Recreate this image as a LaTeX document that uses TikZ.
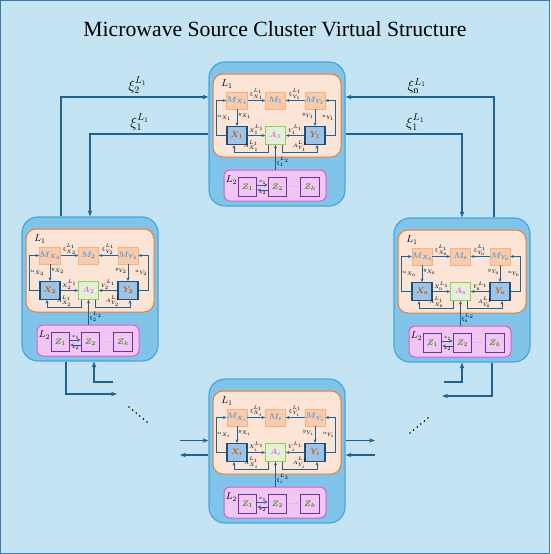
\documentclass[tikz,border=0pt]{standalone}
\usepackage{amsmath,amssymb}
\usepackage{fontspec}
\setmainfont{Liberation Serif}
\usetikzlibrary{arrows.meta,positioning}

\definecolor{bgblue}{HTML}{C4E4F4}
\definecolor{frameblue}{HTML}{3A78A8}
\definecolor{modfill}{HTML}{80C4E9}
\definecolor{moddraw}{HTML}{4AA5DD}
\definecolor{lonefill}{HTML}{FCE4D6}
\definecolor{lonedraw}{HTML}{ED7D31}
\definecolor{mfill}{HTML}{F8CBAD}
\definecolor{mdraw}{HTML}{F4B183}
\definecolor{mtext}{HTML}{5B9BD5}
\definecolor{xfill}{HTML}{9DC3E6}
\definecolor{xdraw}{HTML}{1F4E79}
\definecolor{xtext}{HTML}{C55A11}
\definecolor{afill}{HTML}{E2F0D9}
\definecolor{adraw}{HTML}{92D050}
\definecolor{atext}{HTML}{E46FE0}
\definecolor{ltwofill}{HTML}{F2C6F2}
\definecolor{ltwodraw}{HTML}{D55FD2}
\definecolor{zdraw}{HTML}{7030A0}
\definecolor{ztext}{HTML}{548235}
\definecolor{arrcol}{HTML}{1F6391}

% one source module: #1 name, #2 top-left corner, #3 index
\newcommand{\srcmodule}[3]{%
  \begin{scope}[shift={#2}]
    \node[modbox] (#1) at (68,72) {};
    \node[lonebox] (#1l1) at (68,53.5) {};
    \node[ltwobox] (#1l2) at (66,123.5) {};
    \node[lname] at (18,22) {$L_1$};
    \node[lname] at (22.5,118) {$L_2$};
    \node[mbox] (#1mx) at (28,38.5) {$\boldsymbol{M_{X_{#3}}}$};
    \node[mbox] (#1m) at (66.5,38.5) {$\boldsymbol{M_{#3}}$};
    \node[mbox] (#1my) at (106,38.5) {$\boldsymbol{M_{Y_{#3}}}$};
    \node[xbox] (#1x) at (28,73.5) {$\boldsymbol{X_{#3}}$};
    \node[abox] (#1a) at (66.5,73.5) {$\boldsymbol{A_{#3}}$};
    \node[xbox] (#1y) at (106,73.5) {$\boldsymbol{Y_{#3}}$};
    \node[zbox] (#1z1) at (38.5,125) {$\boldsymbol{Z_1}$};
    \node[zbox] (#1z2) at (68.5,125) {$\boldsymbol{Z_2}$};
    \node[zbox] (#1zk) at (101,125) {$\boldsymbol{Z_k}$};
    \node[lbl] (#1dots) at (84.8,125.5) {$\cdots$};
    \draw[arr] (#1mx) -- node[lbl, above]{$\xi_{X_{#3}}^{L_1}$} (#1m);
    \draw[arr] (#1my) -- node[lbl, above]{$\xi_{Y_{#3}}^{L_1}$} (#1m);
    \draw[arr] (#1mx) -- node[lbl, right, pos=0.4]{$y_{X_{#3}}$} (#1x);
    \draw[arr] (#1my) -- node[lbl, left, pos=0.4]{$y_{Y_{#3}}$} (#1y);
    \draw[arr] (#1x.west) -- ++(-10,0) |- node[lbl, pos=0.25, right]{$u_{X_{#3}}$} (#1mx.west);
    \draw[arr] (#1y.east) -- ++(10,0) |- node[lbl, pos=0.25, left]{$u_{Y_{#3}}$} (#1my.east);
    \draw[arr] (#1x) -- node[lbl, above]{$X_{#3}^{L_1}$} (#1a);
    \draw[arr] (#1y) -- node[lbl, above]{$Y_{#3}^{L_1}$} (#1a);
    \draw[arr] ([xshift=-7pt]#1a.south) -- ++(0,7.5) -| node[lbl, pos=0.25, above]{$A_{X_{#3}}^{L_1}$} ([xshift=-3pt]#1x.south);
    \draw[arr] ([xshift=7pt]#1a.south) -- ++(0,7.5) -| node[lbl, pos=0.25, above]{$A_{Y_{#3}}^{L_1}$} ([xshift=2pt]#1y.south);
    \draw[arr] (#1l2.north -| #1a) -- node[lbl, right, pos=0.3]{$\xi_{#3}^{L_2}$} (#1a);
    \draw[arr] ([yshift=2pt]#1z1.east) -- node[lbl, above]{$z_1$} ([yshift=2pt]#1z2.west);
    \draw[arr] ([yshift=-3pt]#1z2.west) -- node[lbl, below]{$z_2$} ([yshift=-3pt]#1z1.east);
  \end{scope}}

\begin{document}
\begin{tikzpicture}[
    x=1pt, y=-1pt,
    modbox/.style={draw=moddraw, fill=modfill, line width=1.2pt, rounded corners=16pt,
                   minimum width=136pt, minimum height=144pt},
    lonebox/.style={draw=lonedraw, fill=lonefill, line width=1pt, rounded corners=10pt,
                    minimum width=128pt, minimum height=83pt},
    ltwobox/.style={draw=ltwodraw, fill=ltwofill, line width=1pt, rounded corners=6pt,
                    minimum width=102pt, minimum height=31pt},
    mbox/.style={draw=mdraw, fill=mfill, line width=0.6pt, minimum width=20pt,
                 minimum height=17pt, inner sep=0pt, text=mtext, font=\fontsize{8}{9}\selectfont},
    xbox/.style={draw=xdraw, fill=xfill, line width=1.1pt, minimum width=20pt,
                 minimum height=18pt, inner sep=0pt, text=xtext, font=\fontsize{8.5}{9}\selectfont},
    abox/.style={draw=adraw, fill=afill, line width=0.8pt, minimum width=20pt,
                 minimum height=18pt, inner sep=0pt, text=atext, font=\fontsize{8.5}{9}\selectfont},
    zbox/.style={draw=zdraw, fill=ltwofill, line width=1.1pt, minimum size=18.5pt,
                 inner sep=0pt, text=ztext, font=\fontsize{8.5}{9}\selectfont},
    arr/.style={-{Stealth[length=3.5pt,width=3pt]}, draw=arrcol, line width=0.8pt},
    bigarr/.style={-{Stealth[length=6pt,width=4.5pt]}, draw=arrcol, line width=1.2pt},
    lbl/.style={font=\fontsize{5}{5.5}\selectfont, inner sep=0.6pt},
    lname/.style={font=\fontsize{10}{11}\selectfont, inner sep=0pt},
    xilbl/.style={font=\fontsize{14}{16}\selectfont, inner sep=1pt},
  ]
  \useasboundingbox (0,0) rectangle (550,554);
  \fill[bgblue] (0,0) rectangle (550,554);
  \draw[frameblue, line width=1.2pt] (0.6,0.6) rectangle (549.4,553.4);
  \node[font=\fontsize{21.7}{26}\selectfont, anchor=base] (title) at (275,36)
    {Microwave Source Cluster Virtual Structure};

  \srcmodule{mtop}{(209,62)}{1}
  \srcmodule{mleft}{(22,217)}{2}
  \srcmodule{mright}{(394,218)}{\mathrm{n}}
  \srcmodule{mbot}{(209,379)}{i}

  % links to the top module
  \draw[bigarr] ([xshift=-29pt]mleft.north) |- node[xilbl, pos=0.76, above=1.5pt]{$\xi_2^{L_1}$} ([yshift=37pt]mtop.west);
  \draw[bigarr] (mtop.west) -| node[xilbl, pos=0.29, above=1.5pt]{$\xi_1^{L_1}$} (mleft.north);
  \draw[bigarr] ([xshift=32pt]mright.north) |- node[xilbl, pos=0.76, above=1.5pt]{$\xi_{\mathrm{n}}^{L_1}$} ([yshift=37pt]mtop.east);
  \draw[bigarr] (mtop.east) -| node[xilbl, pos=0.3, above=1.5pt]{$\xi_1^{L_1}$} (mright.north);

  % loose ends below the side modules
  \coordinate (lo1) at (117,394);
  \coordinate (lo2) at (113,382);
  \draw[bigarr] ([xshift=-24pt]mleft.south) |- (lo1);
  \draw[bigarr] (lo2) -| ([xshift=4pt]mleft.south);
  \coordinate (ro1) at (444,382);
  \coordinate (ro2) at (442,396);
  \draw[bigarr] (ro1) -| (mright.south);
  \draw[bigarr] ([xshift=30pt]mright.south) |- (ro2);

  % loose ends beside the bottom module
  \coordinate (bl1) at (180,440.5);
  \coordinate (bl2) at (180,455);
  \coordinate (br1) at (375,440.5);
  \coordinate (br2) at (375,455);
  \draw[bigarr] (bl1) -- (bl1 -| mbot.west);
  \draw[bigarr] (bl2 -| mbot.west) -- (bl2);
  \draw[bigarr] (br1 -| mbot.east) -- (br1);
  \draw[bigarr] (br2) -- (br2 -| mbot.east);

  % dots
  \foreach \k in {0,...,5} {
    \fill (129+3.6*\k, 407+3*\k) circle (0.9pt);
    \fill (410+3.6*\k, 433-3*\k) circle (0.9pt);
  }
\end{tikzpicture}
\end{document}
